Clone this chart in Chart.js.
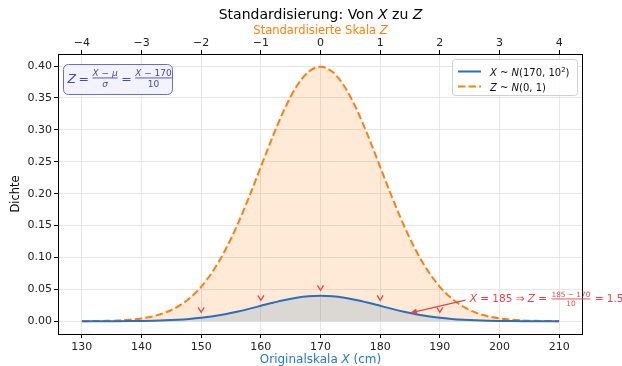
<!DOCTYPE html>
<html><head><meta charset="utf-8">
<script src="https://cdn.jsdelivr.net/npm/chart.js@4.4.1/dist/chart.umd.min.js"></script>
<style>html,body{margin:0;padding:0;background:#fff;}canvas{display:block;}</style>
</head><body>
<canvas id="c" width="622" height="366"></canvas>
<script>
// ---- data ----
const xCm = [130,132,134,136,138,140,142,144,146,148,150,152,154,156,158,160,162,164,166,168,170,
             172,174,176,178,180,182,184,186,188,190,192,194,196,198,200,202,204,206,208,210];
const densX = [0.00001,0.00003,0.00006,0.00012,0.00024,0.00044,0.00079,0.00136,0.00224,0.00355,0.00540,
               0.00790,0.01109,0.01497,0.01942,0.02420,0.02897,0.03332,0.03683,0.03910,0.03989,
               0.03910,0.03683,0.03332,0.02897,0.02420,0.01942,0.01497,0.01109,0.00790,0.00540,
               0.00355,0.00224,0.00136,0.00079,0.00044,0.00024,0.00012,0.00006,0.00003,0.00001];
const zVals = [-4.0,-3.8,-3.6,-3.4,-3.2,-3.0,-2.8,-2.6,-2.4,-2.2,-2.0,-1.8,-1.6,-1.4,-1.2,-1.0,-0.8,-0.6,-0.4,-0.2,0.0,
               0.2,0.4,0.6,0.8,1.0,1.2,1.4,1.6,1.8,2.0,2.2,2.4,2.6,2.8,3.0,3.2,3.4,3.6,3.8,4.0];
const densZ = [0.0001,0.0003,0.0006,0.0012,0.0024,0.0044,0.0079,0.0136,0.0224,0.0355,0.0540,
               0.0790,0.1109,0.1497,0.1942,0.2420,0.2897,0.3332,0.3683,0.3910,0.3989,
               0.3910,0.3683,0.3332,0.2897,0.2420,0.1942,0.1497,0.1109,0.0790,0.0540,
               0.0355,0.0224,0.0136,0.0079,0.0044,0.0024,0.0012,0.0006,0.0003,0.0001];
const xTicks = [130,140,150,160,170,180,190,200,210];
const zTicks = [-4,-3,-2,-1,0,1,2,3,4];
const yTicks = [0.00,0.05,0.10,0.15,0.20,0.25,0.30,0.35,0.40];
const markerX = [150,160,170,180,190];
const annotPoint = {x:185, y:0.01295};
const annotText = {x:195, y:0.036};
const annotTail = {x:194.3, y:0.033};

const FONT = '"DejaVu Sans", sans-serif';
const BLUE = '#2a6fb8', ORANGE = '#ff7f0e', RED = '#e0474c', PURPLE = '#4848b8';

function font(size, it){ return (it?'italic ':'') + size + 'px ' + FONT; }
function partsWidth(ctx, parts, size){
  let w = 0;
  for (const p of parts){
    if (p.num){ const fs=size*(p.r||0.7); w += Math.max(partsWidth(ctx,p.num,fs), partsWidth(ctx,p.den,fs)) + 2; }
    else if (p.sup){ ctx.font = font(size*0.7, false); w += ctx.measureText(p.sup).width; }
    else { ctx.font = font(size, p.it); w += ctx.measureText(p.t).width; }
  }
  return w;
}
function drawParts(ctx, parts, x, y, size, color){
  ctx.fillStyle = color; ctx.strokeStyle = color; ctx.textBaseline = 'alphabetic'; ctx.textAlign='left';
  for (const p of parts){
    if (p.num){
      const fs = size*(p.r||0.7);
      const nw = partsWidth(ctx,p.num,fs), dw = partsWidth(ctx,p.den,fs), w = Math.max(nw,dw);
      const barY = y - size*0.33;
      drawParts(ctx, p.num, x + 1 + (w-nw)/2, barY - 2.2, fs, color);
      drawParts(ctx, p.den, x + 1 + (w-dw)/2, barY + fs*0.98, fs, color);
      ctx.fillStyle = color;
      ctx.fillRect(x+1, Math.round(barY)-0.5, w, 0.9);
      x += w + 2;
    } else if (p.sup){
      ctx.font = font(size*0.7, false); ctx.fillText(p.sup, x, y - size*0.4); x += ctx.measureText(p.sup).width;
    } else {
      ctx.font = font(size, p.it); ctx.fillText(p.t, x, y); x += ctx.measureText(p.t).width;
    }
  }
  return x;
}

const decor = {
  id:'decor',
  afterDraw(chart){
    const ctx = chart.ctx, a = chart.chartArea, sx = chart.scales.x, sy = chart.scales.y;
    ctx.save();
    // frame
    ctx.strokeStyle = '#000'; ctx.lineWidth = 1;
    ctx.strokeRect(Math.round(a.left)+0.5, Math.round(a.top)+0.5, Math.round(a.right-a.left)-1, Math.round(a.bottom-a.top));
    // markers
    ctx.strokeStyle = RED; ctx.lineWidth = 1.3;
    for (const mx of markerX){
      const i = xCm.indexOf(mx);
      const px = sx.getPixelForValue(mx), py = sy.getPixelForValue(densX[i]) - 5.5;
      ctx.beginPath(); ctx.moveTo(px-3, py-5); ctx.lineTo(px, py); ctx.lineTo(px+3, py-5); ctx.stroke();
    }
    // annotation arrow
    const tx = sx.getPixelForValue(annotTail.x), ty = sy.getPixelForValue(annotTail.y);
    const hx = sx.getPixelForValue(annotPoint.x), hy = sy.getPixelForValue(annotPoint.y);
    const ang = Math.atan2(hy-ty, hx-tx);
    ctx.strokeStyle = RED; ctx.fillStyle = RED; ctx.lineWidth = 1.3;
    ctx.beginPath(); ctx.moveTo(tx,ty); ctx.lineTo(hx - 5*Math.cos(ang), hy - 5*Math.sin(ang)); ctx.stroke();
    ctx.beginPath(); ctx.moveTo(hx,hy);
    ctx.lineTo(hx - 7*Math.cos(ang) + 3*Math.sin(ang), hy - 7*Math.sin(ang) - 3*Math.cos(ang));
    ctx.lineTo(hx - 7*Math.cos(ang) - 3*Math.sin(ang), hy - 7*Math.sin(ang) + 3*Math.cos(ang));
    ctx.closePath(); ctx.fill();
    drawParts(ctx, [{t:'X',it:true},{t:' = 185 ⇒ '},{t:'Z',it:true},{t:' = '},
                    {num:[{t:'185 − 170'}], den:[{t:'10'}]},{t:' = 1.5'}],
              sx.getPixelForValue(annotText.x), sy.getPixelForValue(annotText.y)+4, 10.5, RED);
    // formula box
    ctx.beginPath(); ctx.roundRect(63.5, 64.5, 109, 30, 5);
    ctx.fillStyle = 'rgba(242,242,255,0.9)'; ctx.fill();
    ctx.strokeStyle = '#6a6ad0'; ctx.lineWidth = 1; ctx.stroke();
    drawParts(ctx, [{t:'Z',it:true},{t:'\u2009=\u2009'},{num:[{t:'X',it:true},{t:' − '},{t:'μ',it:true}], den:[{t:'σ',it:true}], r:0.72},
                    {t:'\u2009=\u2009'},{num:[{t:'X',it:true},{t:' − 170'}], den:[{t:'10'}], r:0.72}], 67.5, 82.5, 12.5, PURPLE);
    // legend
    ctx.beginPath(); ctx.roundRect(452.5, 59.5, 125, 36, 3);
    ctx.fillStyle = 'rgba(255,255,255,0.85)'; ctx.fill();
    ctx.strokeStyle = '#d0d0d0'; ctx.lineWidth = 1; ctx.stroke();
    ctx.lineWidth = 2; ctx.strokeStyle = BLUE;
    ctx.beginPath(); ctx.moveTo(458,71.5); ctx.lineTo(481,71.5); ctx.stroke();
    ctx.strokeStyle = ORANGE; ctx.setLineDash([7.4,3.2]);
    ctx.beginPath(); ctx.moveTo(458,86.5); ctx.lineTo(481,86.5); ctx.stroke();
    ctx.setLineDash([]);
    drawParts(ctx, [{t:'X',it:true},{t:' ~ '},{t:'N',it:true},{t:'(170, 10'},{sup:'2'},{t:')'}], 490, 75.5, 10, '#111');
    drawParts(ctx, [{t:'Z',it:true},{t:' ~ '},{t:'N',it:true},{t:'(0, 1)'}], 490, 90.5, 10, '#111');
    // titles
    const cx = (a.left + a.right)/2;
    const t1 = [{t:'Standardisierung: Von '},{t:'X',it:true},{t:' zu '},{t:'Z',it:true}];
    let w = partsWidth(ctx, t1, 14);
    drawParts(ctx, t1, cx - w/2, 19, 14, '#000');
    const t2 = [{t:'Standardisierte Skala '},{t:'Z',it:true}];
    w = partsWidth(ctx, t2, 11.5);
    drawParts(ctx, t2, cx - w/2, 33.5, 11.5, ORANGE);
    const t3 = [{t:'Originalskala '},{t:'X',it:true},{t:' (cm)'}];
    w = partsWidth(ctx, t3, 12);
    drawParts(ctx, t3, cx - w/2, 363, 12, '#1f77d0');
    ctx.translate(19, (a.top+a.bottom)/2); ctx.rotate(-Math.PI/2);
    ctx.font = font(11.5,false); ctx.fillStyle='#000'; ctx.textAlign='center'; ctx.textBaseline='alphabetic';
    ctx.fillText('Dichte', 0, 0);
    ctx.restore();
  }
};

const gridC = '#e6e6e6';
new Chart(document.getElementById('c'), {
  type:'line',
  data:{ datasets:[
    { label:'X ~ N(170, 10²)', data: xCm.map((v,i)=>({x:v,y:densX[i]})), xAxisID:'x', yAxisID:'y',
      borderColor:BLUE, borderWidth:2, pointRadius:0, cubicInterpolationMode:'monotone',
      fill:'origin', backgroundColor:'rgba(31,119,180,0.16)' },
    { label:'Z ~ N(0, 1)', data: zVals.map((v,i)=>({x:v,y:densZ[i]})), xAxisID:'x2', yAxisID:'y',
      borderColor:ORANGE, borderWidth:2, borderDash:[7.4,3.2], pointRadius:0, cubicInterpolationMode:'monotone',
      fill:'origin', backgroundColor:'rgba(255,127,14,0.16)' }
  ]},
  options:{
    responsive:false, animation:false, events:[],
    layout:{padding:{left:0,right:39,top:0,bottom:0}},
    plugins:{legend:{display:false}, tooltip:{enabled:false}, title:{display:false}},
    scales:{
      x:{ type:'linear', position:'bottom', min:126, max:214,
          afterBuildTicks:s=>{ s.ticks = xTicks.map(v=>({value:v})); },
          afterFit:s=>{ s.height = 32; },
          ticks:{ font:{family:FONT,size:11}, color:'#222', padding:3, maxRotation:0, autoSkip:false },
          grid:{ color:gridC, tickColor:'#000', tickLength:4 }, border:{display:false} },
      x2:{ type:'linear', position:'top', min:-4.4, max:4.4,
          afterBuildTicks:s=>{ s.ticks = zTicks.map(v=>({value:v})); },
          afterFit:s=>{ s.height = 54; },
          ticks:{ font:{family:FONT,size:11}, color:'#222', padding:0, maxRotation:0, autoSkip:false,
                  callback:v=> (v<0 ? '−'+Math.abs(v) : String(v)) },
          grid:{ drawOnChartArea:false, tickColor:'#000', tickLength:4 }, border:{display:false} },
      y:{ type:'linear', min:-0.02, max:0.4189,
          afterBuildTicks:s=>{ s.ticks = yTicks.map(v=>({value:v})); },
          afterFit:s=>{ s.width = 58; },
          ticks:{ font:{family:FONT,size:11}, color:'#222', padding:2, autoSkip:false, callback:v=>v.toFixed(2) },
          grid:{ color:gridC, tickColor:'#000', tickLength:4 }, border:{display:false} }
    }
  },
  plugins:[decor]
});
</script>
</body></html>
